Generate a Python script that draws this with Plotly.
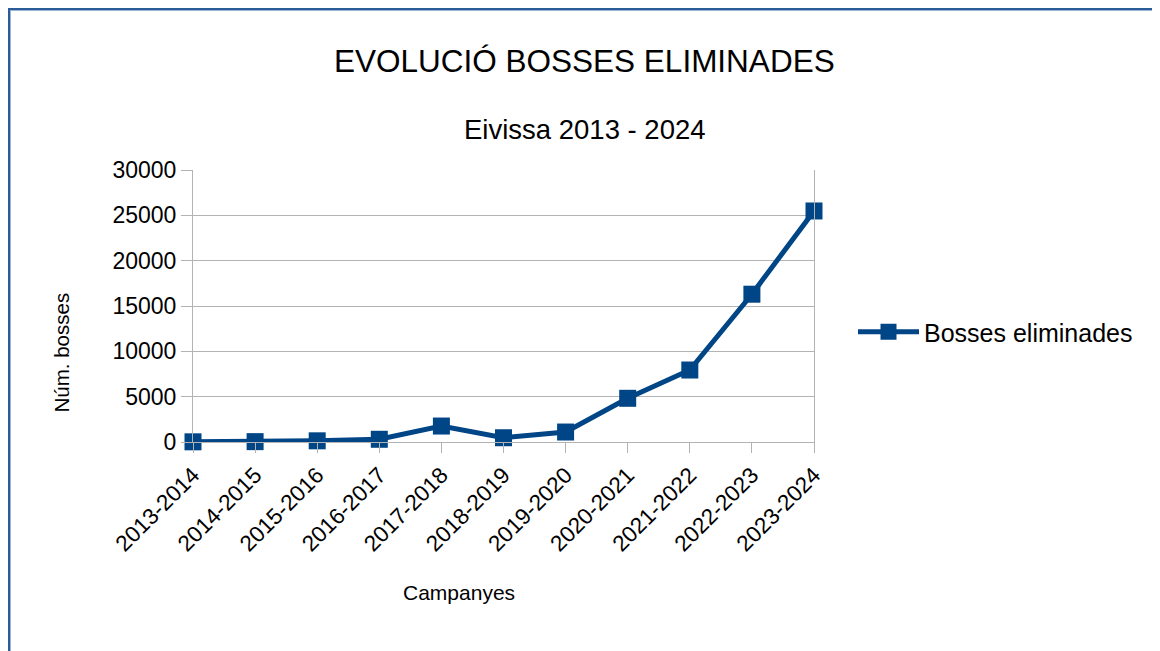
import plotly.graph_objects as go

categories = ["2013-2014", "2014-2015", "2015-2016", "2016-2017", "2017-2018",
              "2018-2019", "2019-2020", "2020-2021", "2021-2022", "2022-2023", "2023-2024"]
bosses = [20, 40, 130, 300, 1760, 470, 1100, 4820, 7940, 16300, 25480]
series_name = "Bosses eliminades"
title_text = "EVOLUCIÓ BOSSES ELIMINADES"
subtitle_text = "Eivissa 2013 - 2024"
x_title = "Campanyes"
y_title = "Núm. bosses"

FONT = "Liberation Sans, Arial, sans-serif"
BLUE = "#004586"
GRID = "#b3b3b3"

W, H = 1160, 651
OFF = 8  # page offset of the figure (body margin)
L, R, T, B = 193, 814, 170, 442  # plot area in page pixels


def px(x):
    return (x - L) / (R - L)


def py(y):
    return (B - y) / (B - T)


fig = go.Figure()
fig.add_trace(go.Scatter(
    x=list(range(len(categories))), y=bosses, name=series_name,
    mode="lines+markers",
    line=dict(color=BLUE, width=5),
    marker=dict(symbol="square", size=17, color=BLUE),
    cliponaxis=False,
))

fig.update_layout(
    width=W, height=H,
    margin=dict(l=L - OFF, r=W - (R - OFF), t=T - OFF, b=H - (B - OFF), pad=0),
    paper_bgcolor="white", plot_bgcolor="white",
    font=dict(family=FONT, color="black"),
    showlegend=True,
    legend=dict(x=px(853), xanchor="left", y=py(332), yanchor="middle",
                itemwidth=61,
                font=dict(size=25, family=FONT), bgcolor="rgba(0,0,0,0)"),
    xaxis=dict(
        tickmode="array", tickvals=list(range(len(categories))), ticktext=categories,
        range=[0, len(categories) - 1], tickangle=-45,
        tickfont=dict(size=22.5, family=FONT),
        showgrid=False, zeroline=False,
        showline=True, linecolor=GRID, linewidth=1,
        ticks="outside", ticklen=10, tickcolor=GRID, tickwidth=1,
    ),
    yaxis=dict(
        range=[0, 30000], dtick=5000, tickformat="d",
        tickfont=dict(size=23, family=FONT),
        showgrid=True, gridcolor=GRID, gridwidth=1, zeroline=False,
        showline=True, linecolor=GRID, linewidth=1, mirror=True,
        ticks="outside", ticklen=11, tickcolor=GRID, tickwidth=1,
    ),
    annotations=[
        dict(text=title_text, x=px(584), y=py(60.5), xref="paper", yref="paper",
             xanchor="center", yanchor="middle", showarrow=False,
             font=dict(size=31.5, family=FONT)),
        dict(text=subtitle_text, x=px(584.5), y=py(129.5), xref="paper", yref="paper",
             xanchor="center", yanchor="middle", showarrow=False,
             font=dict(size=27.5, family=FONT)),
        dict(text=x_title, x=px(459), y=py(592), xref="paper", yref="paper",
             xanchor="center", yanchor="middle", showarrow=False,
             font=dict(size=21, family=FONT)),
        dict(text=y_title, x=px(61), y=py(352.5), xref="paper", yref="paper",
             xanchor="center", yanchor="middle", showarrow=False, textangle=-90,
             font=dict(size=20.5, family=FONT)),
    ],
    shapes=[
        dict(type="line", xref="paper", yref="paper", x0=px(8.5), x1=px(8.5), y0=py(7), y1=py(670),
             line=dict(color="#2a5c9a", width=3)),
        dict(type="line", xref="paper", yref="paper", x0=px(7), x1=px(1170), y0=py(8.5), y1=py(8.5),
             line=dict(color="#2a5c9a", width=3)),
        dict(type="line", xref="paper", yref="paper", x0=px(10.5), x1=px(10.5), y0=py(10), y1=py(670),
             line=dict(color="#9cb4d4", width=1)),
        dict(type="line", xref="paper", yref="paper", x0=px(10), x1=px(1170), y0=py(10.5), y1=py(10.5),
             line=dict(color="#9cb4d4", width=1)),
        dict(type="line", xref="paper", yref="paper", x0=px(1159), x1=px(1159), y0=py(8), y1=py(670),
             line=dict(color="#7f9cc4", width=1.5)),
    ],
)

fig.write_html("out.html")
